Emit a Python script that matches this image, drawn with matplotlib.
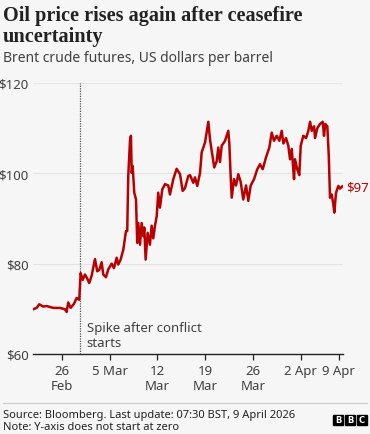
#!/usr/bin/env python3
"""Brent crude futures, Feb-Apr 2026, BBC-style line chart.

x is measured in trading days from 26 Feb (weekends and Good Friday /
Easter Monday dropped), which is how the source axis is spaced.
"""

import matplotlib
import matplotlib.pyplot as plt
from matplotlib.patches import Rectangle
from matplotlib.lines import Line2D

matplotlib.use("Agg")

_RED = "#b80000"
_TEXT = "#404040"
_BG = "#f6f6f6"

# trading-day position, price in US$
day = [
    -3.01, -2.65, -2.38, -1.96, -1.60, -0.91, -0.21, 0.31, 0.49, 0.66,
    0.91, 1.26, 1.54, 1.81, 1.96, 2.17, 2.41, 2.65, 2.86, 3.11,
    3.46, 3.70, 3.91, 4.16, 4.33, 4.61, 4.85, 5.21, 5.45, 5.73,
    5.90, 6.15, 6.43, 6.71, 6.84, 6.95, 7.13, 7.23, 7.31, 7.41,
    7.58, 7.76, 7.89, 8.00, 8.18, 8.35, 8.52, 8.63, 8.77, 8.98,
    9.22, 9.40, 9.57, 9.75, 9.93, 10.09, 10.27, 10.51, 10.80, 11.14,
    11.32, 11.67, 12.02, 12.37, 12.65, 12.89, 13.24, 13.42, 13.76, 13.94,
    14.18, 14.47, 14.64, 14.99, 15.34, 15.51, 15.69, 15.96, 16.22, 16.38,
    16.56, 16.74, 17.09, 17.43, 17.54, 17.68, 17.79, 18.03, 18.24, 18.48,
    18.73, 19.00, 19.29, 19.53, 19.78, 20.13, 20.47, 20.75, 21.04, 21.38,
    21.73, 21.98, 22.22, 22.51, 22.78, 23.03, 23.20, 23.48, 23.72, 23.90,
    24.08, 24.32, 24.42, 24.66, 24.87, 25.02, 25.29, 25.58, 25.82, 26.00,
    26.18, 26.42, 26.52, 26.76, 27.04, 27.33, 27.46, 27.60, 27.81, 27.96,
    28.09, 28.27, 28.44, 28.54, 28.72, 28.96, 29.14, 29.38,
]
price = [
    69.9, 70.2, 71.0, 70.5, 70.6, 70.2, 70.2, 69.9, 69.3, 71.4,
    70.2, 71.1, 72.4, 72.0, 77.9, 76.4, 77.6, 76.7, 75.7, 77.3,
    81.0, 78.3, 78.6, 80.3, 77.6, 77.0, 78.7, 80.0, 79.0, 81.3,
    79.8, 80.9, 83.1, 87.2, 87.2, 99.4, 107.2, 108.3, 100.1, 101.6,
    95.7, 94.2, 84.6, 89.0, 84.2, 89.0, 86.1, 88.0, 80.9, 86.8,
    84.2, 88.4, 85.6, 88.4, 90.5, 95.7, 92.4, 96.4, 97.6, 97.3,
    95.3, 98.7, 101.0, 99.8, 96.1, 96.7, 99.4, 99.6, 97.9, 99.1,
    97.2, 100.1, 104.6, 106.8, 111.4, 107.6, 105.0, 101.3, 102.7, 105.7,
    102.5, 106.1, 107.2, 109.4, 106.6, 99.4, 94.6, 98.7, 97.3, 99.8,
    98.1, 94.2, 97.3, 93.9, 97.3, 98.7, 100.9, 102.0, 100.9, 103.5,
    105.7, 109.0, 107.2, 108.3, 107.2, 109.4, 106.6, 107.8, 106.1, 103.1,
    105.4, 98.7, 103.1, 100.9, 99.6, 106.1, 108.3, 107.8, 109.4, 111.4,
    109.4, 110.4, 107.8, 110.0, 110.9, 111.4, 108.3, 110.9, 110.4, 103.9,
    94.6, 95.3, 93.1, 91.3, 95.7, 97.2, 96.6, 97.1,
]

x_ticks = [0, 5, 10, 15, 20, 25, 29]
x_labels = ["26\nFeb", "5 Mar", "12\nMar", "19\nMar", "26\nMar", "2 Apr", "9 Apr"]
y_ticks = [60, 80, 100, 120]
y_labels = ["$60", "$80", "$100", "$120"]

conflict_day = 1.92
last_label = "$97"


def main() -> int:
    fig = plt.figure(figsize=(3.7, 4.35), dpi=100, facecolor=_BG)
    ax = fig.add_axes([0.089, 0.184, 0.838, 0.623], facecolor=_BG)

    ax.plot(day, price, color=_RED, lw=1.8, solid_joinstyle="round", zorder=3)
    ax.axvline(conflict_day, color="#505050", lw=0.9, ls=(0, (1, 1)), zorder=2)
    ax.text(
        2.6, 67.2, "Spike after conflict\nstarts",
        fontsize=9.5, color=_TEXT, va="top", ha="left", linespacing=1.15,
        family="Noto Sans",
    )
    ax.text(
        29.8, price[-1] - 0.2, last_label, fontsize=9.5, color=_RED,
        fontweight="bold", va="center", ha="left", family="Noto Sans",
        clip_on=False,
    )

    ax.set_xlim(-3.04, 29.45)
    ax.set_ylim(60, 120)
    ax.set_yticks(y_ticks)
    ax.set_yticklabels(y_labels)
    ax.set_xticks(x_ticks)
    ax.set_xticklabels(x_labels)
    ax.grid(axis="y", color="#e4e4e4", lw=0.8)
    ax.set_axisbelow(True)
    for side in ("top", "right", "left"):
        ax.spines[side].set_visible(False)
    ax.spines["bottom"].set_color("#222222")
    ax.spines["bottom"].set_linewidth(1.0)
    ax.tick_params(axis="y", length=0, pad=3, labelsize=9.5, labelcolor=_TEXT)
    ax.tick_params(axis="x", length=4, width=0.9, color="#222222", pad=3,
                   labelsize=9.5, labelcolor=_TEXT)
    for lab in ax.get_xticklabels() + ax.get_yticklabels():
        lab.set_family("Noto Sans")
        lab.set_linespacing(1.2)
    for lab in ax.get_xticklabels():
        lab.set_verticalalignment("top")

    fig.text(0.008, 0.987, "Oil price rises again after ceasefire\nuncertainty",
             fontsize=14.6, fontweight="bold", family="Liberation Serif",
             color="#222222", va="top", ha="left", linespacing=1.12)
    fig.text(0.008, 0.866, "Brent crude futures, US dollars per barrel",
             fontsize=10, family="Noto Sans", color=_TEXT, va="center", ha="left")

    fig.add_artist(Line2D([0.008, 0.992], [1 - 404 / 435] * 2, color="#c8c8c8", lw=0.8))
    fig.text(0.008, 1 - 416 / 435, "Source: Bloomberg. Last update: 07:30 BST, 9 April 2026",
             fontsize=8, family="Noto Sans", color="#222222", va="center", ha="left")
    fig.text(0.008, 1 - 428 / 435, "Note: Y-axis does not start at zero",
             fontsize=8, family="Noto Sans", color="#222222", va="center", ha="left")

    # BBC blocks
    for i, letter in enumerate("BBC"):
        x0 = (333 + i * 12) / 370
        fig.add_artist(Rectangle((x0, 1 - 426 / 435), 10 / 370, 10 / 435,
                                 transform=fig.transFigure, color="#000000"))
        fig.text(x0 + 5 / 370, 1 - 421 / 435, letter, fontsize=6, fontweight="bold",
                 color="white", ha="center", va="center", family="DejaVu Sans")

    fig.savefig("out.png", dpi=100, facecolor=_BG)
    plt.close(fig)
    return 0


if __name__ == "__main__":
    raise SystemExit(main())
